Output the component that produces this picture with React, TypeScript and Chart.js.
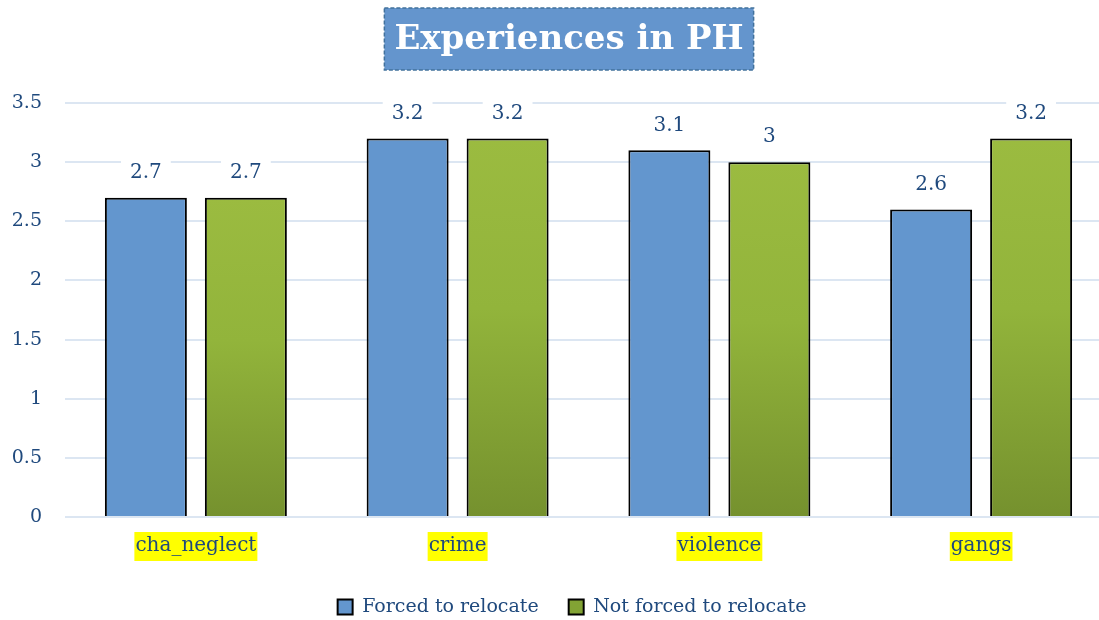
import React, { useEffect, useRef } from "react";
import { Chart, registerables } from "chart.js";

Chart.register(...registerables);

const categories = ["cha_neglect", "crime", "violence", "gangs"];
const forcedValues = [2.7, 3.2, 3.1, 2.6];
const notForcedValues = [2.7, 3.2, 3.0, 3.2];
const seriesNames = ["Forced to relocate", "Not forced to relocate"];
const yTicks = [0, 0.5, 1, 1.5, 2, 2.5, 3, 3.5];
const titleText = "Experiences in PH";

const FONT = "'DejaVu Serif', 'Liberation Serif', serif";
const TEXT = "#1F497D";
const BLUE = "#6396CE";
const GREEN_TOP = "#9BBB40";
const GREEN_MID = "#92B43B";
const GREEN_BOT = "#75912E";
const GRID = "#DCE6F2";

const CANVAS_W = 1120;
const CANVAS_H = 620;

const titlePlugin = {
  id: "boxTitle",
  afterDraw(chart: any) {
    const ctx = chart.ctx;
    ctx.save();
    ctx.font = `bold 34px ${FONT}`;
    const w = ctx.measureText(titleText).width;
    const cx = 569;
    const bw = w + 20;
    const bx = cx - bw / 2;
    const by = 8;
    const bh = 62;
    ctx.fillStyle = "#6495CD";
    ctx.fillRect(bx, by, bw, bh);
    ctx.setLineDash([4, 2]);
    ctx.strokeStyle = "#41719C";
    ctx.lineWidth = 1.5;
    ctx.strokeRect(bx, by, bw, bh);
    ctx.setLineDash([]);
    ctx.fillStyle = "#FFFFFF";
    ctx.textAlign = "center";
    ctx.textBaseline = "middle";
    ctx.fillText(titleText, cx, by + bh / 2 + 1);
    ctx.restore();
  },
};

const valueLabelPlugin = {
  id: "valueLabels",
  afterDatasetsDraw(chart: any) {
    const ctx = chart.ctx;
    ctx.save();
    ctx.font = `20px ${FONT}`;
    ctx.textAlign = "center";
    ctx.textBaseline = "middle";
    chart.data.datasets.forEach((ds: any, di: number) => {
      const meta = chart.getDatasetMeta(di);
      meta.data.forEach((el: any, i: number) => {
        const txt = String(ds.data[i]);
        const w = ctx.measureText(txt).width;
        const y = el.y - 25;
        ctx.fillStyle = "#FFFFFF";
        ctx.fillRect(el.x - w / 2 - 9, y - 13, w + 18, 26);
        ctx.fillStyle = TEXT;
        ctx.fillText(txt, el.x, y);
      });
    });
    ctx.restore();
  },
};

const legendShiftPlugin = {
  id: "legendShift",
  afterLayout(chart: any) {
    const lg = chart.legend;
    if (!lg) return;
    const dx = 572 - (lg.left + lg.right) / 2;
    lg.left += dx;
    lg.right += dx;
    const dy = 597 - (lg.top + lg.bottom) / 2;
    lg.top += dy;
    lg.bottom += dy;
  },
};

export default function App() {
  const ref = useRef<HTMLCanvasElement | null>(null);

  useEffect(() => {
    if (!ref.current) return;
    const greenFill = (c: any) => {
      const chart = c.chart;
      const y = chart.scales?.y;
      if (!y || c.type !== "data") return GREEN_MID;
      const top = y.getPixelForValue(c.raw);
      const bottom = y.getPixelForValue(0);
      const g = chart.ctx.createLinearGradient(0, top, 0, bottom);
      g.addColorStop(0, GREEN_TOP);
      g.addColorStop(0.45, GREEN_MID);
      g.addColorStop(1, GREEN_BOT);
      return g;
    };
    const chart = new Chart(ref.current, {
      type: "bar",
      data: {
        labels: categories,
        datasets: [
          {
            label: seriesNames[0],
            data: forcedValues,
            backgroundColor: BLUE,
            borderColor: "#000000",
            borderWidth: 2,
            categoryPercentage: 0.764,
            barPercentage: 0.82,
          },
          {
            label: seriesNames[1],
            data: notForcedValues,
            backgroundColor: greenFill,
            borderColor: "#000000",
            borderWidth: 2,
            categoryPercentage: 0.764,
            barPercentage: 0.82,
          },
        ],
      },
      options: {
        responsive: false,
        animation: false,
        layout: { padding: { top: 103, left: 13, right: 8, bottom: -1 } },
        plugins: {
          title: { display: false },
          tooltip: { enabled: false },
          legend: {
            position: "bottom",
            labels: {
              color: TEXT,
              font: { family: FONT, size: 19 },
              boxWidth: 15,
              boxHeight: 15,
              padding: 30,
              generateLabels: () =>
                seriesNames.map((n, i) => ({
                  text: n,
                  fillStyle: i === 0 ? BLUE : "#82A334",
                  strokeStyle: "#000000",
                  lineWidth: 2,
                  hidden: false,
                  datasetIndex: i,
                  fontColor: TEXT,
                })),
            },
          },
        },
        scales: {
          x: {
            grid: { display: false },
            border: { display: false },
            afterFit: (scale: any) => {
              scale.height = 45;
            },
            ticks: {
              color: TEXT,
              font: { family: FONT, size: 20 },
              padding: 9,
              showLabelBackdrop: true,
              backdropColor: "#FFFF00",
              backdropPadding: { top: 2, bottom: 3, left: 1, right: 1 },
            },
          },
          y: {
            min: 0,
            max: 3.5,
            afterBuildTicks: (scale: any) => {
              scale.ticks = yTicks.map((v) => ({ value: v }));
            },
            afterFit: (scale: any) => {
              scale.width = 52;
            },
            grid: { color: GRID, lineWidth: 2, drawTicks: false },
            border: { display: false },
            ticks: {
              color: TEXT,
              font: { family: FONT, size: 19 },
              padding: 23,
              callback: (v: any) => String(v),
            },
          },
        },
      },
      plugins: [titlePlugin, valueLabelPlugin, legendShiftPlugin],
    });
    return () => chart.destroy();
  }, []);

  return (
    <div
      style={{
        position: "fixed",
        left: 0,
        top: 0,
        width: 1099,
        height: 620,
        overflow: "hidden",
        background: "#fff",
      }}
    >
      <canvas ref={ref} width={CANVAS_W} height={CANVAS_H} />
    </div>
  );
}
